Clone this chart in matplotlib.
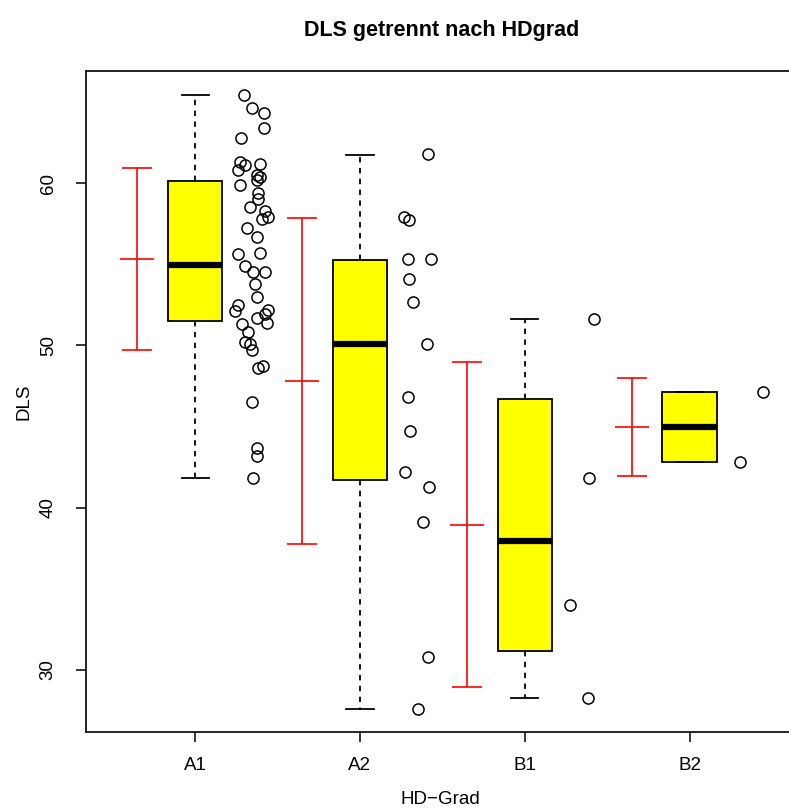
import numpy as np
import matplotlib.pyplot as plt

plt.rcParams['font.family'] = ['Liberation Sans', 'DejaVu Sans']

groups = ['A1', 'A2', 'B1', 'B2']

# box statistics
whislo = [41.8, 27.6, 28.3, 42.8]
q1 = [51.5, 41.7, 31.2, 42.8]
med = [54.95, 50.1, 37.95, 44.95]
q3 = [60.1, 55.25, 46.7, 47.1]
whishi = [65.4, 61.7, 51.6, 47.1]

# mean +/- sd (red bars)
means = [55.3, 47.8, 38.96, 44.97]
sds = [5.6, 10.05, 10.0, 3.02]

# raw points (value, jitter to the right of the box)
a1_vals = [65.4, 64.6, 64.3, 63.4, 62.8, 61.3, 61.1, 60.8, 61.2, 60.5, 60.2, 60.4,
           59.9, 59.4, 59.0, 58.5, 58.3, 57.8, 57.9, 57.2, 56.7, 55.7, 55.6, 54.9,
           54.5, 54.5, 53.8, 53.0, 52.2, 52.5, 52.1, 51.7, 51.9, 51.4, 51.3, 50.8,
           50.2, 50.1, 49.7, 48.7, 48.6, 46.5, 43.7, 43.2, 41.8]
a1_jit = [0.298, 0.346, 0.419, 0.419, 0.279, 0.273, 0.304, 0.261, 0.395, 0.376, 0.376, 0.395,
          0.273, 0.383, 0.383, 0.334, 0.425, 0.407, 0.443, 0.316, 0.376, 0.395, 0.261, 0.304,
          0.352, 0.425, 0.364, 0.376, 0.443, 0.261, 0.243, 0.376, 0.425, 0.437, 0.285, 0.322,
          0.304, 0.334, 0.346, 0.413, 0.383, 0.346, 0.376, 0.376, 0.352]
a2_vals = [61.8, 57.9, 57.7, 55.3, 55.3, 54.1, 52.7, 50.1, 46.8, 44.7, 42.2, 41.3, 39.1, 30.8, 27.6]
a2_jit = [0.413, 0.267, 0.298, 0.291, 0.431, 0.298, 0.322, 0.407, 0.291, 0.304, 0.273, 0.419,
          0.383, 0.413, 0.352]
b1_vals = [51.6, 41.8, 34.0, 28.3]
b1_jit = [0.419, 0.389, 0.273, 0.383]
b2_vals = [47.1, 42.8]
b2_jit = [0.443, 0.304]

points = [(a1_vals, a1_jit), (a2_vals, a2_jit), (b1_vals, b1_jit), (b2_vals, b2_jit)]
pos = np.arange(1, len(groups) + 1)

fig = plt.figure(figsize=(7.89, 8.08), dpi=100)
ax = fig.add_axes([86 / 789, 76 / 808, 709 / 789, 661 / 808])

stats = [dict(med=med[i], q1=q1[i], q3=q3[i], whislo=whislo[i], whishi=whishi[i], fliers=[])
         for i in range(len(groups))]
ax.bxp(stats, positions=pos, widths=0.33, capwidths=0.165, patch_artist=True,
       boxprops=dict(facecolor='yellow', edgecolor='black', linewidth=1.3),
       medianprops=dict(color='black', linewidth=4.5, solid_capstyle='butt'),
       whiskerprops=dict(color='black', linewidth=1.3, linestyle=(0, (3, 3))),
       capprops=dict(color='black', linewidth=1.3))

# mean +/- sd bars to the left
ax.errorbar(pos - 0.35, means, yerr=sds, fmt='none', ecolor='red', elinewidth=1.2,
            capsize=10.5, capthick=1.2)
ax.plot(pos - 0.35, means, linestyle='none', marker='_', markersize=25,
        markeredgewidth=1.2, color='red')

# raw values to the right
for p, (vals, jit) in zip(pos, points):
    ax.plot(p + np.array(jit), vals, linestyle='none', marker='o', markersize=8,
            markerfacecolor='none', markeredgecolor='black', markeredgewidth=1.1)

ax.set_xlim(0.338, 4.64)
ax.set_ylim(26.18, 66.9)
ax.set_xticks(pos)
ax.set_xticklabels(groups, fontsize=13.5)
ax.set_yticks([30, 40, 50, 60])
ax.set_yticklabels(['30', '40', '50', '60'], fontsize=13.5, rotation=90, va='center')
ax.tick_params(direction='out', length=7, width=1.1)
ax.tick_params(axis='x', pad=11)
ax.tick_params(axis='y', pad=14)
for s in ax.spines.values():
    s.set_linewidth(1.2)

ax.set_ylabel('DLS', fontsize=13.5, labelpad=5)
ax.set_xlabel('HD\u2212Grad', fontsize=13.5, labelpad=12)
fig.suptitle('DLS getrennt nach HDgrad', fontsize=15.5, fontweight='bold', x=0.56, y=0.975)

fig.savefig('out.png', dpi=100)
